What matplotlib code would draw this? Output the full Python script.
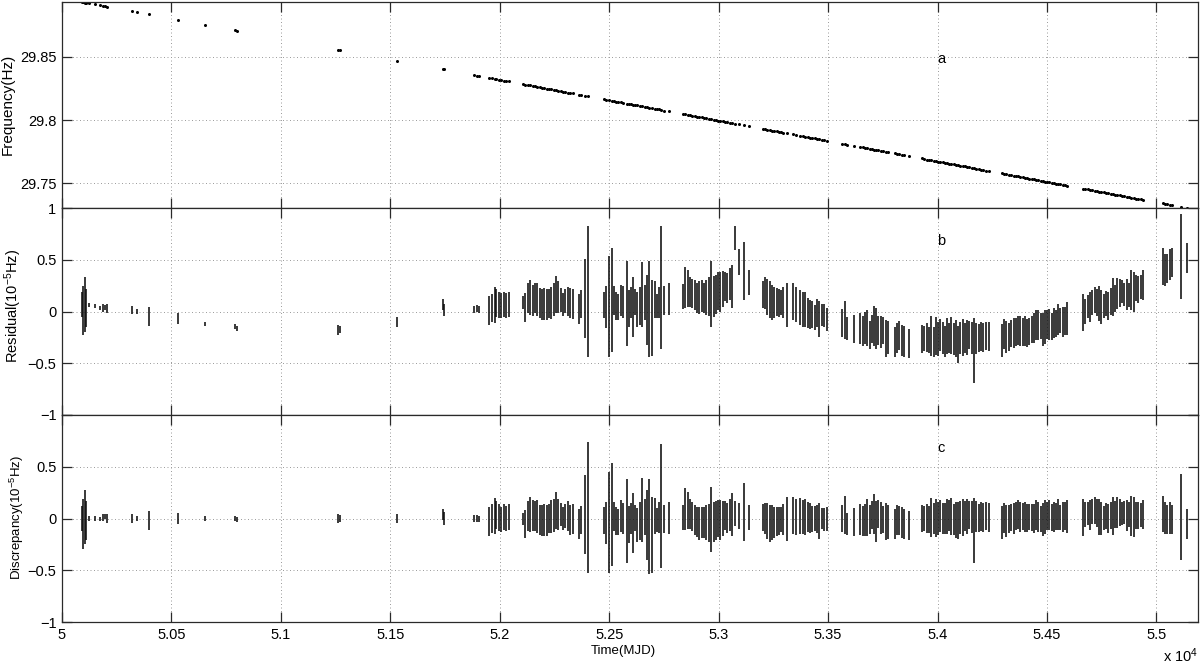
import matplotlib
matplotlib.use('Agg')
import matplotlib.pyplot as plt
import numpy as np

plt.rcParams['font.family'] = ['Liberation Sans', 'DejaVu Sans']
plt.rcParams['mathtext.fontset'] = 'custom'
plt.rcParams['mathtext.rm'] = 'Liberation Sans'
plt.rcParams['mathtext.it'] = 'Liberation Sans:italic'
plt.rcParams['axes.unicode_minus'] = True

# ---------------- data ----------------
mjd = [50090, 50097, 50105, 50110, 50125, 50151, 50174, 50186, 50195, 50204,
       50321, 50341, 50399, 50532, 50655, 50791, 50798, 51263, 51271, 51529,
       51740, 51747, 51884, 51895, 51904,
       51953, 51964, 51976, 51985, 51996, 52006, 52018, 52029, 52040,
       52105, 52116, 52128, 52139, 52150, 52160, 52171, 52182, 52192, 52203,
       52215, 52226, 52236, 52247, 52258, 52268, 52279, 52290, 52300, 52311,
       52323, 52334, 52360, 52372, 52390, 52402,
       52474, 52486, 52501, 52512, 52520, 52532, 52542, 52555, 52565, 52581,
       52590, 52600, 52609, 52620, 52629, 52641, 52652, 52664, 52673, 52683,
       52695, 52707, 52718, 52727, 52737, 52751, 52772,
       52837, 52847, 52858, 52868, 52879, 52891, 52900, 52911, 52922, 52932,
       52943, 52954, 52966, 52977, 52987, 52998, 53007, 53018, 53028, 53039,
       53050, 53060, 53076, 53091, 53118, 53137,
       53201, 53211, 53222, 53233, 53243, 53254, 53265, 53275, 53286, 53296,
       53312, 53339, 53353, 53373, 53385, 53396, 53406, 53417, 53428, 53438,
       53449, 53460, 53470, 53481, 53495,
       53563, 53575, 53586, 53619, 53647, 53658, 53670, 53680, 53690, 53700,
       53708, 53720, 53729, 53740, 53751, 53764, 53773, 53804, 53814, 53825,
       53837, 53845, 53868,
       53929, 53939, 53952, 53962, 53971, 53982, 53993, 54002, 54013, 54023,
       54034, 54043, 54054, 54063, 54073, 54084, 54093, 54104, 54115, 54124,
       54134, 54145, 54156, 54168, 54178, 54189, 54200, 54210, 54221, 54235,
       54294, 54305, 54314, 54325, 54335, 54348, 54358, 54367, 54378, 54389,
       54399, 54409, 54419, 54430, 54439, 54450, 54460, 54471, 54480, 54491,
       54500, 54511, 54521, 54530, 54541, 54550, 54561, 54572, 54582, 54591,
       54663, 54675, 54686, 54696, 54707, 54718, 54728, 54739, 54748, 54759,
       54770, 54780, 54791, 54800, 54811, 54821, 54832, 54843, 54853, 54864,
       54875, 54885, 54896, 54907, 54917, 54928, 54939,
       55029, 55039, 55050, 55061, 55071, 55112, 55140]

freq = [29.8933, 29.8931, 29.8928, 29.8927, 29.8922, 29.8914, 29.8906, 29.8902, 29.8899, 29.8896,
        29.8859, 29.8852, 29.8834, 29.8791, 29.8751, 29.8707, 29.8705, 29.8555, 29.8552, 29.8469,
        29.8401, 29.8399, 29.8355, 29.8351, 29.8348,
        29.8333, 29.8329, 29.8325, 29.8322, 29.8319, 29.8316, 29.8312, 29.8308, 29.8305,
        29.8284, 29.8280, 29.8276, 29.8273, 29.8269, 29.8266, 29.8262, 29.8259, 29.8256, 29.8252,
        29.8248, 29.8245, 29.8241, 29.8238, 29.8234, 29.8231, 29.8227, 29.8224, 29.8221, 29.8217,
        29.8213, 29.8210, 29.8201, 29.8198, 29.8192, 29.8188,
        29.8165, 29.8161, 29.8156, 29.8152, 29.8150, 29.8146, 29.8143, 29.8139, 29.8135, 29.8130,
        29.8127, 29.8124, 29.8121, 29.8118, 29.8115, 29.8111, 29.8107, 29.8103, 29.8100, 29.8097,
        29.8093, 29.8090, 29.8086, 29.8083, 29.8080, 29.8075, 29.8069,
        29.8048, 29.8044, 29.8041, 29.8038, 29.8034, 29.8030, 29.8027, 29.8024, 29.8020, 29.8017,
        29.8013, 29.8010, 29.8006, 29.8002, 29.7999, 29.7996, 29.7993, 29.7989, 29.7986, 29.7982,
        29.7979, 29.7976, 29.7971, 29.7966, 29.7957, 29.7951,
        29.7930, 29.7927, 29.7923, 29.7920, 29.7917, 29.7913, 29.7910, 29.7906, 29.7903, 29.7900,
        29.7894, 29.7886, 29.7881, 29.7875, 29.7871, 29.7867, 29.7864, 29.7861, 29.7857, 29.7854,
        29.7850, 29.7847, 29.7844, 29.7840, 29.7836,
        29.7814, 29.7810, 29.7806, 29.7796, 29.7786, 29.7783, 29.7779, 29.7776, 29.7773, 29.7769,
        29.7767, 29.7763, 29.7760, 29.7756, 29.7753, 29.7749, 29.7746, 29.7736, 29.7733, 29.7729,
        29.7725, 29.7723, 29.7715,
        29.7696, 29.7692, 29.7688, 29.7685, 29.7682, 29.7678, 29.7675, 29.7672, 29.7668, 29.7665,
        29.7662, 29.7659, 29.7655, 29.7652, 29.7649, 29.7646, 29.7643, 29.7639, 29.7636, 29.7633,
        29.7629, 29.7626, 29.7622, 29.7618, 29.7615, 29.7612, 29.7608, 29.7605, 29.7601, 29.7597,
        29.7578, 29.7574, 29.7571, 29.7568, 29.7565, 29.7560, 29.7557, 29.7554, 29.7551, 29.7547,
        29.7544, 29.7541, 29.7538, 29.7534, 29.7531, 29.7528, 29.7524, 29.7521, 29.7518, 29.7514,
        29.7511, 29.7508, 29.7505, 29.7502, 29.7498, 29.7495, 29.7492, 29.7488, 29.7485, 29.7482,
        29.7459, 29.7455, 29.7452, 29.7448, 29.7445, 29.7441, 29.7438, 29.7434, 29.7432, 29.7428,
        29.7424, 29.7421, 29.7418, 29.7415, 29.7411, 29.7408, 29.7404, 29.7401, 29.7398, 29.7394,
        29.7391, 29.7387, 29.7384, 29.7380, 29.7377, 29.7373, 29.7370,
        29.7341, 29.7338, 29.7334, 29.7331, 29.7327, 29.7314, 29.7305]

resid = [0.07, 0.01, 0.065, 0.035, 0.06, 0.053, 0.03, 0.037, 0.04, 0.03,
         0.016, 0.0, -0.05, -0.07, -0.118, -0.145, -0.163, -0.178, -0.175, -0.103,
         0.068, 0.016, 0.02, 0.028, 0.02,
         0.005, 0.034, 0.061, 0.08, 0.063, 0.056, 0.069, 0.056, 0.069,
         0.084, 0.04, 0.132, 0.137, 0.108, 0.129, 0.113, 0.081, 0.068, 0.073,
         0.068, 0.076, 0.08, 0.113, 0.162, 0.14, 0.113, 0.065, 0.10, 0.094,
         0.081, 0.071, 0.024, 0.07, 0.124, 0.19,
         0.065, 0.044, 0.05, 0.113, 0.108, 0.056, 0.045, 0.105, 0.089, 0.076,
         0.032, 0.085, 0.048, 0.092, 0.02, 0.053, 0.165, 0.089, 0.016, 0.027,
         -0.06, 0.113, 0.053, 0.085, 0.232, 0.105, 0.121,
         0.145, 0.234, 0.225, 0.187, 0.172, 0.161, 0.135, 0.134, 0.15, 0.132,
         0.137, 0.145, 0.17, 0.142, 0.166, 0.197, 0.193, 0.218, 0.237, 0.226,
         0.266, 0.242, 0.712, 0.479, 0.387, 0.282,
         0.161, 0.176, 0.14, 0.113, 0.089, 0.085, 0.089, 0.08, 0.089, 0.085,
         0.065, 0.097, 0.065, 0.04, 0.02, 0.021, -0.016, -0.029, -0.032, -0.056,
         -0.016, -0.068, -0.032, -0.035, -0.08,
         -0.11, -0.085, -0.165, -0.169, -0.165, -0.193, -0.156, -0.161, -0.225, -0.166,
         -0.138, -0.166, -0.185, -0.2, -0.184, -0.258, -0.248, -0.29, -0.258, -0.229,
         -0.279, -0.287, -0.311,
         -0.263, -0.258, -0.247, -0.274, -0.238, -0.296, -0.237, -0.27, -0.23, -0.258,
         -0.287, -0.237, -0.255, -0.229, -0.266, -0.258, -0.32, -0.253, -0.251, -0.255,
         -0.25, -0.23, -0.257, -0.378, -0.261, -0.253, -0.246, -0.25, -0.241, -0.246,
         -0.277, -0.219, -0.242, -0.245, -0.21, -0.21, -0.198, -0.185, -0.193, -0.198,
         -0.193, -0.21, -0.193, -0.174, -0.158, -0.129, -0.129, -0.139, -0.177, -0.148,
         -0.129, -0.126, -0.142, -0.113, -0.113, -0.076, -0.089, -0.1, -0.089, -0.065,
         -0.011, 0.0, 0.048, 0.039, 0.089, 0.11, 0.084, 0.076, 0.045, 0.053,
         0.073, 0.056, 0.097, 0.137, 0.129, 0.172, 0.18, 0.19, 0.165, 0.165,
         0.161, 0.21, 0.193, 0.226, 0.213, 0.237, 0.255,
         0.436, 0.403, 0.419, 0.452, 0.472, 0.532, 0.516]

err = [0.12, 0.24, 0.265, 0.185, 0.02, 0.02, 0.02, 0.037, 0.025, 0.045,
       0.04, 0.022, 0.09, 0.055, 0.021, 0.026, 0.024, 0.048, 0.035, 0.048,
       0.052, 0.058, 0.035, 0.037, 0.032,
       0.14, 0.137, 0.174, 0.135, 0.127, 0.12, 0.124, 0.12, 0.124,
       0.061, 0.137, 0.148, 0.169, 0.15, 0.145, 0.161, 0.145, 0.148, 0.153,
       0.148, 0.14, 0.155, 0.161, 0.177, 0.15, 0.113, 0.112, 0.116, 0.141,
       0.145, 0.145, 0.144, 0.133, 0.382, 0.632,
       0.128, 0.205, 0.487, 0.50, 0.14, 0.137, 0.126, 0.153, 0.153, 0.408,
       0.177, 0.15, 0.29, 0.124, 0.165, 0.182, 0.31, 0.17, 0.34, 0.463,
       0.368, 0.177, 0.118, 0.15, 0.597, 0.137, 0.153,
       0.122, 0.2, 0.177, 0.145, 0.14, 0.145, 0.145, 0.157, 0.15, 0.148,
       0.169, 0.187, 0.315, 0.197, 0.189, 0.18, 0.193, 0.17, 0.14, 0.145,
       0.153, 0.21, 0.117, 0.124, 0.28, 0.121,
       0.129, 0.153, 0.172, 0.177, 0.169, 0.15, 0.137, 0.135, 0.121, 0.15,
       0.21, 0.177, 0.17, 0.17, 0.165, 0.172, 0.145, 0.142, 0.129, 0.121,
       0.135, 0.174, 0.106, 0.11, 0.113,
       0.132, 0.182, 0.11, 0.137, 0.148, 0.145, 0.156, 0.177, 0.138, 0.134,
       0.193, 0.198, 0.137, 0.153, 0.129, 0.177, 0.161, 0.145, 0.145, 0.142,
       0.15, 0.148, 0.14,
       0.134, 0.119, 0.14, 0.129, 0.19, 0.145, 0.182, 0.164, 0.156, 0.152,
       0.148, 0.172, 0.148, 0.18, 0.153, 0.177, 0.18, 0.156, 0.177, 0.148,
       0.169, 0.134, 0.152, 0.315, 0.148, 0.134, 0.14, 0.137, 0.135, 0.14,
       0.158, 0.145, 0.155, 0.132, 0.129, 0.145, 0.134, 0.137, 0.145, 0.134,
       0.145, 0.135, 0.129, 0.132, 0.142, 0.145, 0.145, 0.129, 0.161, 0.164,
       0.139, 0.148, 0.132, 0.145, 0.129, 0.15, 0.121, 0.142, 0.137, 0.161,
       0.182, 0.119, 0.112, 0.145, 0.121, 0.126, 0.132, 0.172, 0.164, 0.118,
       0.121, 0.137, 0.129, 0.185, 0.129, 0.15, 0.132, 0.11, 0.11, 0.148,
       0.119, 0.193, 0.193, 0.129, 0.132, 0.118, 0.142,
       0.177, 0.155, 0.139, 0.152, 0.14, 0.413, 0.145]

discr = [0.0, -0.05, 0.015, -0.02, 0.0, 0.0, -0.005, 0.01, 0.02, 0.0,
         0.0, 0.0, -0.017, 0.0, 0.0, 0.0, -0.01, 0.0, 0.0, 0.0,
         0.035, 0.0, 0.0, 0.0, -0.005,
         -0.03, 0.0, 0.02, 0.03, 0.01, -0.007, 0.012, 0.0, 0.012,
         -0.005, -0.054, 0.023, 0.035, 0.027, 0.028, 0.019, -0.012, -0.022, -0.017,
         -0.017, -0.001, 0.019, 0.027, 0.08, 0.043, 0.04, 0.0, 0.024, 0.024,
         -0.012, -0.007, -0.054, -0.017, 0.036, 0.107,
         -0.017, -0.041, -0.038, 0.04, 0.024, -0.025, -0.038, 0.022, 0.0, -0.022,
         -0.057, 0.003, -0.043, 0.004, -0.065, -0.022, 0.085, 0.015, -0.062, -0.078,
         -0.162, 0.025, -0.017, 0.007, 0.122, -0.006, 0.003,
         0.011, 0.09, 0.08, 0.044, 0.015, -0.01, -0.033, -0.049, -0.043, -0.041,
         -0.041, -0.044, -0.009, -0.033, -0.02, 0.003, -0.01, 0.003, 0.027, 0.009,
         0.032, 0.04, 0.048, 0.024, 0.067, 0.007,
         0.009, 0.0, -0.022, -0.049, -0.036, -0.038, -0.03, -0.028, -0.012, -0.014,
         -0.007, 0.032, 0.015, 0.024, 0.015, 0.012, 0.011, 0.003, -0.004, 0.0,
         -0.006, -0.022, 0.0, -0.006, -0.004,
         0.0, 0.032, -0.054, -0.033, -0.012, -0.022, -0.014, 0.011, -0.012, 0.032,
         0.043, -0.03, 0.041, 0.006, -0.007, -0.03, -0.033, -0.057, -0.017, -0.02,
         -0.039, -0.052, -0.065,
         0.0, 0.0, 0.0, -0.012, 0.007, 0.0, 0.003, 0.0, 0.027, 0.0,
         0.003, 0.019, 0.032, 0.02, -0.009, -0.014, -0.02, 0.011, 0.011, 0.024,
         0.02, 0.035, 0.015, -0.117, 0.019, 0.007, 0.015, 0.011, 0.02, 0.007,
         -0.038, 0.004, -0.022, -0.004, 0.011, 0.0, 0.025, 0.038, 0.015, 0.02,
         0.015, 0.004, 0.015, 0.007, 0.0, 0.035, 0.012, -0.004, -0.009, 0.012,
         0.024, 0.035, 0.007, 0.011, 0.019, 0.04, 0.006, 0.015, 0.024, 0.022,
         0.011, 0.036, 0.051, 0.032, 0.072, 0.077, 0.052, 0.015, 0.0, 0.007,
         0.024, 0.0, 0.032, 0.027, 0.036, 0.057, 0.056, 0.048, 0.06, 0.032,
         0.036, 0.02, 0.019, 0.028, 0.032, 0.036, 0.04,
         0.043, 0.006, -0.007, 0.007, -0.012, 0.015, -0.049]

panel_tags = ['a', 'b', 'c']
ylabels = ['Frequency(Hz)', r'Residual(10$^{-5}$Hz)', r'Discrepancy(10$^{-5}$Hz)']
xticks = list(range(50000, 55001, 500))
xticklabels = ['%g' % (v / 1e4) for v in xticks]

# ---------------- figure ----------------
W_PX, H_PX = 1200, 664
fig = plt.figure(figsize=(W_PX / 100, H_PX / 100), dpi=100)
L, W = 62 / W_PX, 1136 / W_PX
TICK_FS = 10.5


def rect(top_px, bot_px):
    return [L, 1 - bot_px / H_PX, W, (bot_px - top_px) / H_PX]


ax_a = fig.add_axes(rect(1.5, 208))
ax_b = fig.add_axes(rect(208, 415))
ax_c = fig.add_axes(rect(415, 622))

for ax in (ax_a, ax_b, ax_c):
    ax.set_xlim(50000, 55190)
    ax.set_xticks(xticks)
    ax.set_axisbelow(True)
    ax.grid(True, linestyle=(0, (1, 2.6)), color='#9a9a9a', linewidth=0.7)
    for s in ax.spines.values():
        s.set_color('#2a2a2a')
        s.set_linewidth(0.9)
    ax.tick_params(direction='in', length=7, width=0.9, color='#2a2a2a',
                   top=True, right=True, labelsize=TICK_FS, pad=4)

ax_a.tick_params(labelbottom=False)
ax_b.tick_params(labelbottom=False)
ax_c.set_xticklabels(xticklabels)

# panel a: frequency
ax_a.plot(mjd, freq, linestyle='none', marker='o', markersize=2.2,
          color='black', markeredgewidth=0)
ax_a.set_ylim(29.7305, 29.8936)
ax_a.set_yticks([29.75, 29.8, 29.85])
ax_a.set_yticklabels(['29.75', '29.8', '29.85'])

# panel b: residual
ax_b.errorbar(mjd, resid, yerr=err, fmt='none', ecolor='#0d0d0d',
              elinewidth=1.15, capsize=0)
ax_b.set_ylim(-1, 1)
ax_b.set_yticks([-1, -0.5, 0, 0.5, 1])
ax_b.set_yticklabels(['\u22121', '\u22120.5', '0', '0.5', '1'])

# panel c: discrepancy
ax_c.errorbar(mjd, discr, yerr=err, fmt='none', ecolor='#0d0d0d',
              elinewidth=1.15, capsize=0)
ax_c.set_ylim(-1, 1)
ax_c.set_yticks([-1, -0.5, 0, 0.5, 1])
ax_c.set_yticklabels(['\u22121', '\u22120.5', '0', '0.5', ''])

# panel tags
ax_a.text(54000, 29.8448, panel_tags[0], fontsize=10.5, ha='left', va='baseline')
ax_b.text(54000, 0.645, panel_tags[1], fontsize=10.5, ha='left', va='baseline')
ax_c.text(54000, 0.645, panel_tags[2], fontsize=10.5, ha='left', va='baseline')

# y labels
fig.text(7.5 / W_PX, 1 - 104 / H_PX, ylabels[0], rotation=90,
         ha='center', va='center', fontsize=11)
fig.text(13.5 / W_PX, 1 - 306 / H_PX, ylabels[1], rotation=90,
         ha='center', va='center', fontsize=10.5)
fig.text(16.5 / W_PX, 1 - 518 / H_PX, ylabels[2], rotation=90,
         ha='center', va='center', fontsize=9.5)

# x label and exponent
fig.text(623 / W_PX, 1 - 651 / H_PX, 'Time(MJD)', ha='center', va='center',
         fontsize=9.5)
fig.text(1163 / W_PX, 1 - 662 / H_PX, r'x 10$^{4}$', ha='left', va='baseline',
         fontsize=10.5)

fig.savefig('out.png', dpi=100)
